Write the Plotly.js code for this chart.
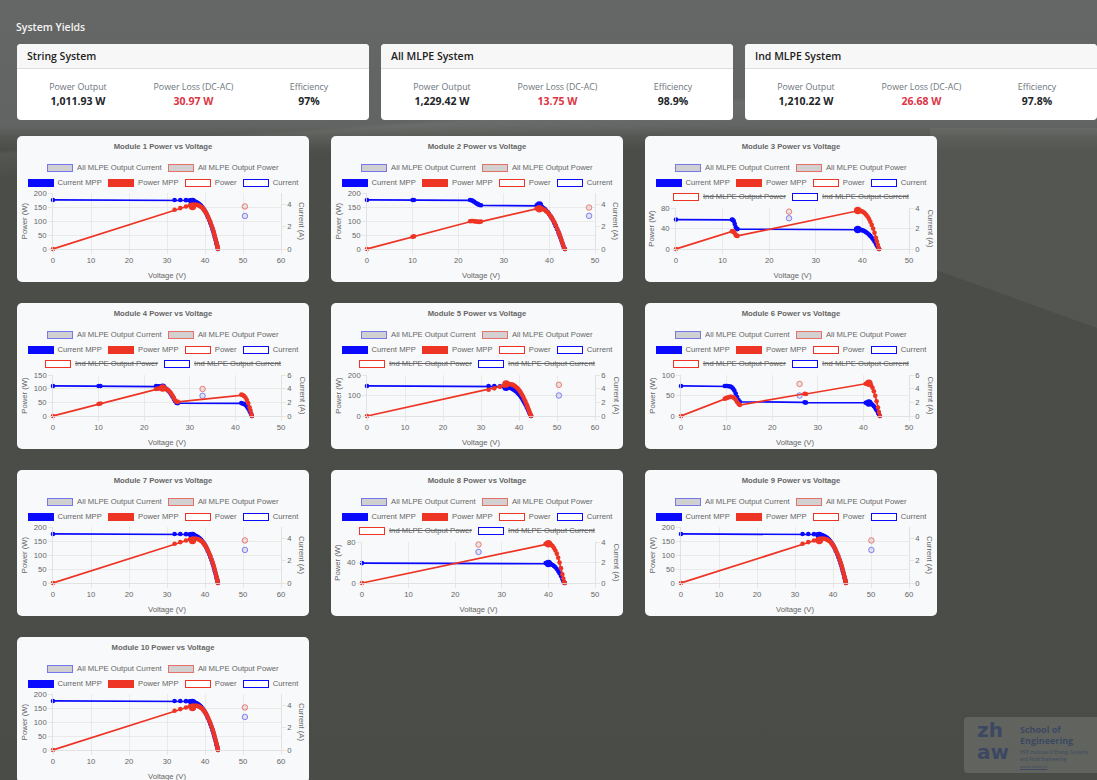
<!DOCTYPE html>
<html><head><meta charset="utf-8">
<script src="https://cdn.plot.ly/plotly-3.0.1.min.js"></script>
<style>
html,body{margin:0;padding:0;width:1097px;height:780px;overflow:hidden;}
body{position:relative;font-family:"Open Sans","Noto Sans",sans-serif;
 background:
  linear-gradient(176deg, rgba(0,0,0,0) 0, rgba(0,0,0,0) 17.5%, rgba(255,255,255,0.05) 18%, rgba(0,0,0,0) 21%),
  linear-gradient(to bottom,#656766 0,#626463 126px,#555852 136px,#4b4e48 150px,#4a4d47 100%);}
.bgpatch{position:absolute;left:930px;top:128px;width:167px;height:200px;background:rgba(255,255,255,0.05);
 clip-path:polygon(0 0,100% 0,100% 100%,0 70%)}
.hdr{position:absolute;left:16px;top:20px;font-size:10.5px;font-weight:600;color:#f4f4f4;}
.sys{position:absolute;top:44px;width:352px;height:76px;background:#fff;border-radius:4px;overflow:hidden;}
.sys .sh{height:24px;background:#f7f7f7;border-bottom:1px solid #dedede;padding-left:10px;line-height:25px;font-size:10.5px;font-weight:600;color:#222;}
.sys .col{position:absolute;top:36.5px;width:116px;text-align:center;}
.lab{font-size:8.8px;color:#6c757d;line-height:13px}
.val{font-size:10.5px;font-weight:700;color:#212529;line-height:15px}
.val.red{color:#dc3545}
.card{position:absolute;width:292px;height:146px;background:#f8f9fa;border-radius:5px;overflow:hidden}
.plot{position:absolute;left:0;top:0;width:292px;height:146px}
.lrow{position:absolute;left:0;width:292px;height:8px;display:flex;justify-content:center;gap:6.4px;
 font-family:"Liberation Sans",Arial,sans-serif;font-size:7.7px;color:#666;line-height:8px;white-space:nowrap;z-index:3}
.it{display:flex;align-items:flex-start;height:8px}
.bx{display:block;flex:none;width:26px;height:8px;border:1.5px solid;box-sizing:border-box;margin-right:3.8px}
.strike{text-decoration:line-through}
.logo{position:absolute;left:964px;top:717px;width:140px;height:56px;background:rgba(255,255,255,0.13);border-radius:4px;color:#3c4862}
.logo .zh{position:absolute;left:13px;font-family:"DejaVu Sans",sans-serif;font-weight:700;font-size:20px;line-height:18px}
.logo .t1{position:absolute;left:56px;font-size:9px;font-weight:700;line-height:10px;white-space:nowrap}
.logo .t2{position:absolute;left:56px;width:80px;font-size:4.6px;line-height:6px;white-space:nowrap;overflow:hidden}
.logo .t3{position:absolute;left:56px;top:47px;font-size:4.3px;line-height:5px;text-decoration:underline}
</style></head>
<body>
<div class="bgpatch"></div>
<div class="hdr">System Yields</div>
<div id="systems"></div>
<div id="grid"></div>
<div class="logo"><div class="zh" style="top:4px">zh</div><div class="zh" style="top:26px">aw</div>
<div class="t1" style="top:8px">School of</div><div class="t1" style="top:19px">Engineering</div>
<div class="t2" style="top:32px">IEFE Institute of Energy Systems</div><div class="t2" style="top:38.5px">and Fluid Engineering</div>
<div class="t3">www.zhaw.ch</div></div>
<script>
// ---------- system yield cards ----------
const systemNames = ['String System', 'All MLPE System', 'Ind MLPE System'];
const systemOutput = ['1,011.93 W', '1,229.42 W', '1,210.22 W'];
const systemLoss = ['30.97 W', '13.75 W', '26.68 W'];
const systemEfficiency = ['97%', '98.9%', '97.8%'];
const metricLabels = ['Power Output', 'Power Loss (DC-AC)', 'Efficiency'];

// ---------- module charts ----------
const moduleTitles = ['Module 1 Power vs Voltage','Module 2 Power vs Voltage','Module 3 Power vs Voltage','Module 4 Power vs Voltage','Module 5 Power vs Voltage','Module 6 Power vs Voltage','Module 7 Power vs Voltage','Module 8 Power vs Voltage','Module 9 Power vs Voltage','Module 10 Power vs Voltage'];

// standard module curve (modules 1, 7, 9, 10)
const stdVoltage = [0, 32, 33.5, 35, 36, 36.3, 36.6, 36.9, 37.2, 37.5, 37.8, 38.1, 38.4, 38.7, 39, 39.3, 39.6, 39.9, 40.2, 40.5, 40.8, 41.1, 41.4, 41.7, 42, 42.2, 42.4, 42.6, 42.8, 43, 43.1, 43.2, 43.3, 43.4];
const stdCurrent = [4.38, 4.38, 4.37, 4.36, 4.34, 4.33, 4.31, 4.29, 4.26, 4.22, 4.17, 4.11, 4.04, 3.95, 3.85, 3.73, 3.59, 3.43, 3.25, 3.05, 2.83, 2.59, 2.33, 2.05, 1.75, 1.53, 1.3, 1.06, 0.81, 0.55, 0.42, 0.28, 0.14, 0];
const stdPower = [0, 140, 146, 152, 156, 157, 158, 158, 158, 158, 158, 157, 155, 153, 150, 147, 142, 137, 131, 124, 115, 106, 96, 85, 74, 65, 55, 45, 35, 24, 18, 12, 6, 0];

const m2Voltage = [0, 10, 10.3, 22.6, 22.9, 23.2, 23.5, 23.8, 24.1, 24.4, 24.7, 25, 37.2, 37.5, 37.8, 38.1, 38.4, 38.7, 39, 39.3, 39.6, 39.9, 40.2, 40.5, 40.8, 41.1, 41.4, 41.7, 42, 42.2, 42.4, 42.6, 42.8, 43, 43.2, 43.4];
const m2Current = [4.38, 4.38, 4.37, 4.37, 4.35, 4.3, 4.22, 4.13, 4.05, 3.98, 3.93, 3.9, 3.9, 3.88, 3.85, 3.8, 3.74, 3.66, 3.56, 3.44, 3.3, 3.14, 2.96, 2.76, 2.54, 2.3, 2.04, 1.76, 1.46, 1.25, 1.03, 0.8, 0.56, 0.32, 0.1, 0];
const m2Power = [0, 44, 45, 99, 100, 100, 99, 98, 98, 97, 97, 98, 145, 146, 146, 145, 144, 142, 139, 135, 131, 125, 119, 112, 104, 95, 85, 73, 61, 53, 44, 34, 24, 14, 4, 0];

const m3Voltage = [0, 12, 12.2, 12.4, 12.6, 12.8, 13, 13.2, 38.7, 39, 39.3, 39.6, 39.9, 40.2, 40.5, 40.8, 41.1, 41.4, 41.7, 42, 42.3, 42.6, 42.9, 43.1, 43.3, 43.5, 43.6];
const m3Current = [2.87, 2.87, 2.84, 2.72, 2.45, 2.15, 1.98, 1.94, 1.94, 1.93, 1.91, 1.88, 1.84, 1.79, 1.72, 1.64, 1.54, 1.42, 1.28, 1.12, 0.94, 0.74, 0.51, 0.35, 0.19, 0.04, 0];
const m3Power = [0, 34.4, 34.6, 33.7, 30.9, 27.5, 25.7, 25.6, 75.1, 75.3, 75.1, 74.4, 73.4, 72.0, 69.7, 66.9, 63.3, 58.8, 53.4, 47.0, 39.8, 31.5, 21.9, 15.1, 8.2, 1.7, 0];

const m4Voltage = [0, 10, 10.4, 22.6, 22.9, 23.2, 23.5, 23.8, 24.1, 24.4, 24.7, 25, 25.3, 25.6, 25.9, 26.2, 26.5, 26.8, 27.1, 27.4, 41.3, 41.6, 41.9, 42.2, 42.5, 42.8, 43.1, 43.3, 43.5, 43.6];
const m4Current = [4.4, 4.4, 4.38, 4.37, 4.36, 4.34, 4.31, 4.27, 4.21, 4.13, 4.02, 3.88, 3.7, 3.47, 3.19, 2.86, 2.5, 2.15, 1.92, 1.89, 1.89, 1.84, 1.75, 1.6, 1.38, 1.1, 0.74, 0.47, 0.17, 0];
const m4Power = [0, 44, 45.6, 98.8, 99.8, 100.7, 101.3, 101.6, 101.5, 100.8, 99.3, 97, 93.6, 88.8, 82.6, 74.9, 66.3, 57.6, 52, 51.8, 78.1, 76.5, 73.3, 67.5, 58.7, 47.1, 31.9, 20.4, 7.4, 0];

const m5Voltage = [0, 32, 33.5, 35, 36, 36.3, 36.6, 36.9, 37.2, 37.5, 37.8, 38.1, 38.4, 38.7, 39, 39.3, 39.6, 39.9, 40.2, 40.5, 40.8, 41.1, 41.4, 41.7, 42, 42.2, 42.4, 42.6, 42.8, 43, 43.1, 43.2];
const m5Current = [4.4, 4.4, 4.38, 4.36, 4.33, 4.31, 4.28, 4.24, 4.2, 4.15, 4.09, 4.02, 3.93, 3.83, 3.71, 3.57, 3.41, 3.23, 3.03, 2.8, 2.55, 2.28, 1.99, 1.68, 1.35, 1.12, 0.88, 0.64, 0.4, 0.16, 0.06, 0];
const m5Power = [0, 128, 135, 143, 149, 151, 153, 155, 156, 156, 155, 154, 152, 149, 145, 140, 135, 129, 122, 113, 104, 94, 82, 70, 57, 48, 38, 28, 18, 7, 3, 0];

const m6Voltage = [0, 9.6, 9.9, 10.2, 10.5, 10.8, 11.1, 11.4, 11.7, 12, 12.3, 12.6, 12.9, 27.1, 27.4, 40.5, 40.8, 41.1, 41.4, 41.7, 42, 42.3, 42.6, 42.9, 43.2, 43.4, 43.6];
const m6Current = [4.4, 4.4, 4.39, 4.38, 4.36, 4.32, 4.22, 4.03, 3.72, 3.28, 2.78, 2.35, 2.08, 2.0, 1.96, 1.94, 1.94, 1.93, 1.88, 1.79, 1.64, 1.43, 1.16, 0.84, 0.48, 0.22, 0];
const m6Power = [0, 42.2, 43.5, 44.7, 45.8, 46.7, 46.8, 45.9, 43.5, 39.4, 34.2, 29.6, 26.8, 54.2, 53.7, 78.6, 79.2, 79.3, 77.8, 74.6, 68.9, 60.5, 49.4, 36, 20.7, 9.5, 0];

const m8Voltage = [0, 39.4, 39.7, 40, 40.3, 40.6, 40.9, 41.2, 41.5, 41.8, 42.1, 42.4, 42.7, 43, 43.2, 43.4, 43.5];
const m8Current = [1.94, 1.94, 1.93, 1.91, 1.88, 1.83, 1.76, 1.66, 1.53, 1.37, 1.17, 0.94, 0.68, 0.39, 0.2, 0.04, 0];
const m8Power = [0, 76.4, 76.6, 76.4, 75.8, 74.3, 72.0, 68.4, 63.5, 57.3, 49.3, 39.9, 29.0, 16.8, 8.6, 1.7, 0];

const curveVoltage = [stdVoltage, m2Voltage, m3Voltage, m4Voltage, m5Voltage, m6Voltage, stdVoltage, m8Voltage, stdVoltage, stdVoltage];
const curveCurrent = [stdCurrent, m2Current, m3Current, m4Current, m5Current, m6Current, stdCurrent, m8Current, stdCurrent, stdCurrent];
const curvePower = [stdPower, m2Power, m3Power, m4Power, m5Power, m6Power, stdPower, m8Power, stdPower, stdPower];

const mppVoltage = [36.7, 37.8, 39, 24.05, 36.6, 41.2, 36.7, 40, 36.4, 36.7];
const mppPower = [152, 144, 75, 102, 156, 79.8, 152, 76.4, 152, 152];
const mppCurrent = [4.25, 3.92, 1.9, 4.2, 4.2, 1.89, 4.25, 1.91, 4.25, 4.25];
const mlpeVoltage = [50.5, 48.7, 24.25, 32.8, 50.5, 26, 50.5, 25, 50.1, 50.5];
const mlpePower = [152, 148, 72.9, 99, 152, 78.2, 152, 75, 152, 152];
const mlpeCurrent = [2.95, 2.96, 3.0, 2.95, 3.0, 3.0, 2.95, 3.03, 2.95, 2.95];
const hasIndMlpe = [false, false, true, true, true, true, false, true, false, false];

const voltageMax = [60, 50, 50, 50, 60, 50, 60, 50, 60, 60];
const powerMax = [200, 200, 80, 150, 200, 100, 200, 80, 200, 200];
const powerStep = [50, 50, 40, 50, 100, 50, 50, 40, 50, 50];
const currentMax = [5, 5, 4, 6, 6, 6, 5, 4, 5, 5];
const currentStep = [2, 2, 2, 2, 2, 2, 2, 2, 2, 2];

const legendMain = ['All MLPE Output Current', 'All MLPE Output Power'];
const legendSecond = ['Current MPP', 'Power MPP', 'Power', 'Current'];
const legendInd = ['Ind MLPE Output Power', 'Ind MLPE Output Current'];

const BLUE = 'rgb(10,10,255)', RED = 'rgb(238,52,36)';
const legendStyle = {
 'All MLPE Output Current': ['#d0d0d0', 'rgba(60,60,255,0.6)'],
 'All MLPE Output Power': ['#d2d0d0', 'rgba(238,52,36,0.6)'],
 'Current MPP': [BLUE, BLUE], 'Power MPP': [RED, RED],
 'Power': ['#ffffff', RED], 'Current': ['#ffffff', BLUE],
 'Ind MLPE Output Power': ['#ffffff', RED], 'Ind MLPE Output Current': ['#ffffff', BLUE]
};

// build system cards
const sysWrap = document.getElementById('systems');
systemNames.forEach((name, i) => {
  const d = document.createElement('div');
  d.className = 'sys';
  d.style.left = (17 + i * 364) + 'px';
  const vals = [systemOutput[i], systemLoss[i], systemEfficiency[i]];
  let html = '<div class="sh">' + name + '</div>';
  metricLabels.forEach((lab, k) => {
    html += '<div class="col" style="left:' + (3 + k * 115.5) + 'px"><div class="lab">' + lab + '</div><div class="val' + (k === 1 ? ' red' : '') + '">' + vals[k] + '</div></div>';
  });
  d.innerHTML = html;
  sysWrap.appendChild(d);
});

function legendRow(items, top, strike) {
  let h = '<div class="lrow" style="top:' + top + 'px">';
  items.forEach(t => {
    const s = legendStyle[t];
    h += '<span class="it"><span class="bx" style="background:' + s[0] + ';border-color:' + s[1] + '"></span><span class="' + (strike ? 'strike' : '') + '">' + t + '</span></span>';
  });
  return h + '</div>';
}

const grid = document.getElementById('grid');
moduleTitles.forEach((title, i) => {
  const card = document.createElement('div');
  card.className = 'card';
  card.style.left = (17 + (i % 3) * 314) + 'px';
  card.style.top = (136 + Math.floor(i / 3) * 167) + 'px';
  let html = '<div class="plot" id="p' + i + '"></div>';
  html += legendRow(legendMain, 28, false) + legendRow(legendSecond, 43, false);
  if (hasIndMlpe[i]) html += legendRow(legendInd, 57, true);
  card.innerHTML = html;
  grid.appendChild(card);

  const ml = powerMax[i] >= 100 ? 36 : 31;
  const mt = hasIndMlpe[i] ? 72 : 57.3;
  const W = 292, H = 146, mr = 28, mb = 33;
  const pw = W - ml - mr;
  const axisCommon = {showgrid: true, gridcolor: '#e6e6e6', gridwidth: 0.8, ticks: 'outside', ticklen: 4,
    tickcolor: '#e6e6e6', showline: true, linecolor: '#dcdcdc', linewidth: 0.8, zeroline: false,
    automargin: false, tickfont: {size: 7.7, color: '#666'}, fixedrange: true};

  const traces = [
    {x: curveVoltage[i], y: curveCurrent[i], yaxis: 'y', type: 'scatter', mode: 'lines+markers', name: 'Current',
     line: {color: BLUE, width: 1.7}, marker: {color: BLUE, size: 4.6}, cliponaxis: false},
    {x: mppVoltage.slice(i, i + 1), y: mppCurrent.slice(i, i + 1), yaxis: 'y', type: 'scatter', mode: 'markers', name: 'Current MPP',
     marker: {color: BLUE, size: 7.5}, cliponaxis: false},
    {x: mlpeVoltage.slice(i, i + 1), y: mlpeCurrent.slice(i, i + 1), yaxis: 'y', type: 'scatter', mode: 'markers', name: 'All MLPE Output Current',
     marker: {color: 'rgba(190,190,200,0.35)', size: 5.5, line: {color: 'rgba(60,60,255,0.6)', width: 1}}, cliponaxis: false},
    {x: curveVoltage[i], y: curvePower[i], yaxis: 'y2', type: 'scatter', mode: 'lines+markers', name: 'Power',
     line: {color: RED, width: 1.7}, marker: {color: RED, size: 4.6}, cliponaxis: false},
    {x: mppVoltage.slice(i, i + 1), y: mppPower.slice(i, i + 1), yaxis: 'y2', type: 'scatter', mode: 'markers', name: 'Power MPP',
     marker: {color: RED, size: 7.5}, cliponaxis: false},
    {x: mlpeVoltage.slice(i, i + 1), y: mlpePower.slice(i, i + 1), yaxis: 'y2', type: 'scatter', mode: 'markers', name: 'All MLPE Output Power',
     marker: {color: 'rgba(200,190,190,0.35)', size: 5.5, line: {color: 'rgba(238,52,36,0.6)', width: 1}}, cliponaxis: false}
  ];
  const layout = {
    width: W, height: H,
    margin: {l: ml, r: mr, t: mt, b: mb, pad: 0},
    paper_bgcolor: 'rgba(0,0,0,0)', plot_bgcolor: 'rgba(0,0,0,0)',
    font: {family: '"Liberation Sans", Arial, sans-serif', size: 7.7, color: '#666'},
    title: {text: '<b>' + title + '</b>', x: 0.5, xanchor: 'center', y: 1 - 10.7 / H, yanchor: 'middle', font: {size: 7.7, color: '#666'}},
    showlegend: false, hovermode: false,
    xaxis: Object.assign({}, axisCommon, {range: [0, voltageMax[i]], dtick: 10, tick0: 0,
      title: {text: 'Voltage (V)', font: {size: 7.7, color: '#666'}, standoff: 8}}),
    yaxis: Object.assign({}, axisCommon, {side: 'right', range: [0, currentMax[i]], dtick: currentStep[i], tick0: 0, showgrid: false}),
    yaxis2: Object.assign({}, axisCommon, {overlaying: 'y', side: 'left', range: [0, powerMax[i]], dtick: powerStep[i], tick0: 0,
      title: {text: 'Power (W)', font: {size: 7.7, color: '#666'}, standoff: 5}}),
    annotations: [{text: 'Current (A)', textangle: 90, xref: 'paper', yref: 'paper', x: (285 - ml) / pw, y: 0.5,
      xanchor: 'center', yanchor: 'middle', showarrow: false, font: {size: 7.7, color: '#666'}}]
  };
  Plotly.newPlot('p' + i, traces, layout, {staticPlot: true, displayModeBar: false});
});
</script>
</body></html>
